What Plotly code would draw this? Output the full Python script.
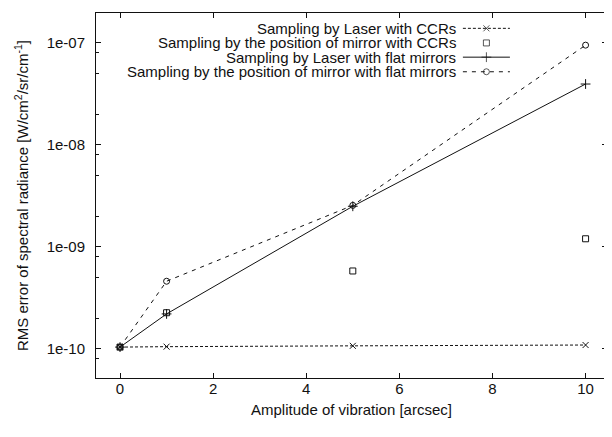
import plotly.graph_objects as go

# ---- data ----
amplitude = [0, 1, 5, 10]
laser_ccr = [1.04e-10, 1.05e-10, 1.07e-10, 1.09e-10]
mirror_ccr = [1.04e-10, 2.26e-10, 5.8e-10, 1.2e-9]
laser_flat = [1.04e-10, 2.2e-10, 2.5e-9, 3.95e-8]
mirror_flat = [1.04e-10, 4.6e-10, 2.55e-9, 9.5e-8]

series_names = [
    "Sampling by Laser with CCRs",
    "Sampling by the position of mirror with CCRs",
    "Sampling by Laser with flat mirrors",
    "Sampling by the position of mirror with flat mirrors",
]
x_ticks = [0, 2, 4, 6, 8, 10]
y_ticks = [1e-10, 1e-9, 1e-8, 1e-7]
y_ticktext = ["1e-10", "1e-09", "1e-08", "1e-07"]

FONT = "Liberation Sans, Arial, Helvetica, sans-serif"
FS = 15
BLACK = "#111111"

styles = [
    dict(mode="lines+markers", line=dict(color=BLACK, width=1, dash="3px,2px"),
         marker=dict(symbol="x-thin-open", size=6, line=dict(color=BLACK, width=1))),
    dict(mode="markers", line=dict(color=BLACK, width=1),
         marker=dict(symbol="square-open", size=6, line=dict(color=BLACK, width=1))),
    dict(mode="lines+markers", line=dict(color=BLACK, width=1),
         marker=dict(symbol="cross-thin-open", size=7, line=dict(color=BLACK, width=1))),
    dict(mode="lines+markers", line=dict(color=BLACK, width=1, dash="4px,5px"),
         marker=dict(symbol="circle-open", size=6, line=dict(color=BLACK, width=1))),
]

fig = go.Figure()
for name, ys, st in zip(series_names, [laser_ccr, mirror_ccr, laser_flat, mirror_flat], styles):
    fig.add_trace(go.Scatter(x=amplitude, y=ys, name=name, showlegend=False,
                             cliponaxis=False, **st))

# ---- custom legend (text right-aligned, sample to the right) ----
leg_rows = [0.958, 0.918, 0.879, 0.839]
leg_x0, leg_x1, leg_text_x = 0.718, 0.810, 0.708
for name, ry, st in zip(series_names, leg_rows, styles):
    fig.add_trace(go.Scatter(
        x=[leg_x0, (leg_x0 + leg_x1) / 2, leg_x1], y=[ry, ry, ry],
        xaxis="x2", yaxis="y2", showlegend=False, hoverinfo="skip",
        mode=st["mode"],
        line=st["line"],
        marker=dict(symbol=st["marker"]["symbol"], size=[0, st["marker"]["size"], 0],
                    line=st["marker"]["line"]),
    ))
    fig.add_annotation(x=leg_text_x, y=ry, xref="paper", yref="paper",
                       text=name, showarrow=False, xanchor="right", yanchor="middle",
                       font=dict(family=FONT, size=FS, color=BLACK))

axis_common = dict(showline=True, linecolor=BLACK, linewidth=1, mirror="allticks",
                   ticks="inside", ticklen=5, tickcolor=BLACK, showgrid=False,
                   zeroline=False, automargin=False,
                   tickfont=dict(family=FONT, size=FS, color=BLACK))

# the page body adds an 8px offset, so the figure is sized to fit the window
fig.update_layout(
    width=604, height=421,
    margin=dict(l=88, r=5, t=5, b=51),
    paper_bgcolor="white", plot_bgcolor="white",
    font=dict(family=FONT, size=FS, color=BLACK),
    xaxis=dict(range=[-0.516, 10.46], tickvals=x_ticks, **axis_common,
               ticklabelstandoff=-3,
               title=dict(text="Amplitude of vibration [arcsec]",
                          font=dict(family=FONT, size=FS, color=BLACK), standoff=8)),
    yaxis=dict(type="log", range=[-10.286, -6.707], tickvals=y_ticks, ticktext=y_ticktext,
               **axis_common,
               ticklabelstandoff=7,
               minor=dict(ticks="inside", ticklen=3, tickcolor=BLACK,
                          tickvals=[m * 10.0 ** e for e in (-11, -10, -9, -8, -7)
                                    for m in (2, 5, 8)]),
               title=dict(text="RMS error of spectral radiance [W/cm<sup>2</sup>/sr/cm<sup>-1</sup>]",
                          font=dict(family=FONT, size=FS, color=BLACK), standoff=14)),
    xaxis2=dict(overlaying="x", range=[0, 1], visible=False),
    yaxis2=dict(overlaying="y", range=[0, 1], visible=False),
)

fig.write_html("out.html")
